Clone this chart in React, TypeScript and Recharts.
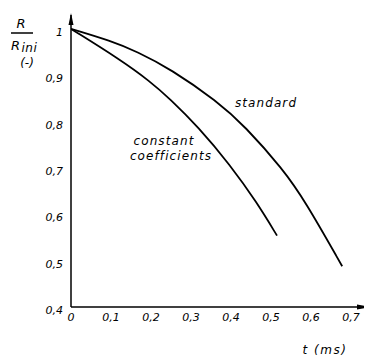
import React from 'react';
import { LineChart, Line, XAxis, YAxis, ReferenceDot } from 'recharts';

const standardT = [0, 0.1, 0.165, 0.25, 0.365, 0.435, 0.53, 0.585, 0.678];
const standardR = [1.0, 0.974, 0.951, 0.913, 0.844, 0.79, 0.697, 0.629, 0.488];
const constantT = [0, 0.1225, 0.1975, 0.2475, 0.3175, 0.3975, 0.465, 0.515];
const constantR = [1.0, 0.934, 0.887, 0.849, 0.789, 0.707, 0.625, 0.554];

const xTicks = [0, 0.1, 0.2, 0.3, 0.4, 0.5, 0.6, 0.7];
const yTicks = [0.4, 0.5, 0.6, 0.7, 0.8, 0.9, 1.0];
const xDomain = [0, 0.75];
const yDomain = [0.4, 1.03];

const standardData = standardT.map((t, i) => ({ t, r: standardR[i] }));
const constantData = constantT.map((t, i) => ({ t, r: constantR[i] }));

const FONT = '"DejaVu Sans", sans-serif';
const fmt = (v: number) => (v === 0 || v === 1 ? String(v) : v.toFixed(1).replace('.', ','));

const tickStyle = { fontStyle: 'italic', fontSize: 11, fill: '#000', fontFamily: FONT };

const YTitle = () => (
  <g fontFamily={FONT} fontStyle="italic" fill="#000">
    <text x={13} y={20} fontSize={13} textAnchor="middle">R</text>
    <line x1={3} x2={25} y1={25} y2={25} stroke="#000" strokeWidth={1.5} />
    <text x={3} y={42} fontSize={13}>R</text>
    <text x={13.5} y={44} fontSize={12} letterSpacing={0.5}>ini</text>
    <text x={19} y={59} fontSize={12} textAnchor="middle">(-)</text>
  </g>
);

const XTitle = (p: any) => {
  const vb = p.viewBox || { x: 63, y: 299, width: 300 };
  return (
    <text x={vb.x + vb.width - 46} y={346} fontFamily={FONT} fontStyle="italic" fontSize={12} letterSpacing={1.5} fill="#000" textAnchor="middle">
      t (ms)
    </text>
  );
};

const UpArrow = (p: any) => (
  <path d={`M${p.cx},${p.cy - 2} L${p.cx - 2.5},${p.cy + 10} L${p.cx + 2.5},${p.cy + 10} Z`} fill="#000" />
);
const RightArrow = (p: any) => (
  <path d={`M${p.cx + 1},${p.cy} L${p.cx - 14},${p.cy - 2.5} L${p.cx - 14},${p.cy + 2.5} Z`} fill="#000" />
);

const annoStyle = { fontStyle: 'italic', fontSize: 12, fill: '#000', fontFamily: FONT, letterSpacing: 1.1 } as any;

export default function App() {
  return (
    <div style={{ background: '#fff' }}>
      <LineChart width={364} height={350} margin={{ top: 7, right: 1, bottom: 21, left: 0 }}>
        <XAxis
          type="number"
          dataKey="t"
          domain={xDomain}
          ticks={xTicks}
          tickFormatter={fmt}
          allowDataOverflow
          axisLine={{ stroke: '#000', strokeWidth: 1.5 }}
          tickLine={false}
          tickSize={0}
          tickMargin={6}
          height={30}
          tick={tickStyle}
          label={XTitle}
        />
        <YAxis
          type="number"
          dataKey="r"
          domain={yDomain}
          ticks={yTicks}
          tickFormatter={fmt}
          allowDataOverflow
          axisLine={{ stroke: '#000', strokeWidth: 1.5 }}
          tickLine={false}
          tickSize={0}
          tickMargin={8}
          width={63}
          tick={{ ...tickStyle, dy: 3 }}
          label={YTitle}
        />
        <Line data={standardData} dataKey="r" type="basis" stroke="#000" strokeWidth={1.8} dot={false} isAnimationActive={false} />
        <Line data={constantData} dataKey="r" type="basis" stroke="#000" strokeWidth={1.8} dot={false} isAnimationActive={false} />
        <ReferenceDot x={0} y={1.03} r={0} shape={UpArrow} ifOverflow="visible" />
        <ReferenceDot x={0.75} y={0.4} r={0} shape={RightArrow} ifOverflow="visible" />
        <ReferenceDot x={0.4875} y={0.84} r={0} ifOverflow="visible" fill="none" stroke="none"
          label={{ value: 'standard', position: 'center', style: annoStyle }} />
        <ReferenceDot x={0.2325} y={0.758} r={0} ifOverflow="visible" fill="none" stroke="none"
          label={{ value: 'constant', position: 'center', style: annoStyle }} />
        <ReferenceDot x={0.25} y={0.726} r={0} ifOverflow="visible" fill="none" stroke="none"
          label={{ value: 'coefficients', position: 'center', style: annoStyle }} />
      </LineChart>
    </div>
  );
}
